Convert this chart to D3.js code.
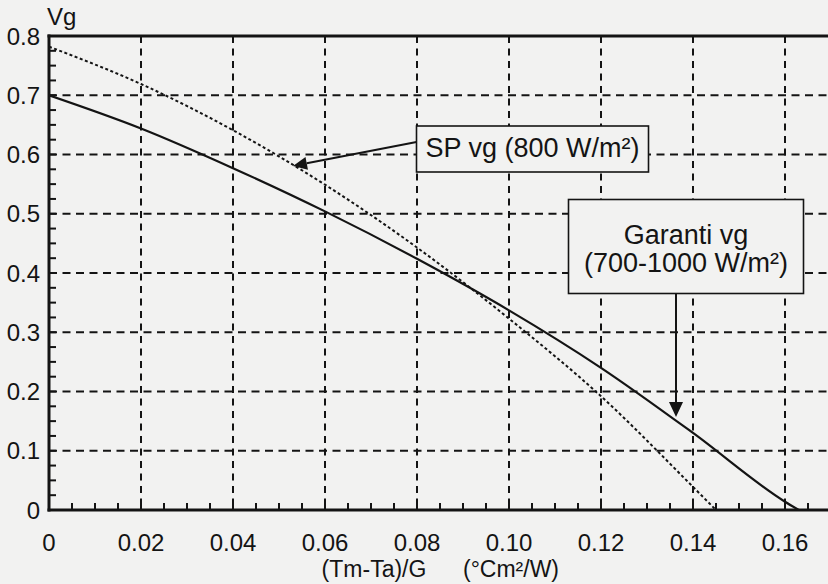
<!DOCTYPE html>
<html><head><meta charset="utf-8">
<script src="https://cdn.jsdelivr.net/npm/d3@7"></script>
<style>html,body{margin:0;padding:0;background:#f2f2f1;}svg{display:block;font-family:"Liberation Sans",Arial,sans-serif;}</style>
</head><body>
<svg id="c" width="828" height="584"></svg>
<script>
// ---- data ----
const xTicks = [0, 0.02, 0.04, 0.06, 0.08, 0.10, 0.12, 0.14, 0.16];
const xTickLabels = ["0", "0.02", "0.04", "0.06", "0.08", "0.10", "0.12", "0.14", "0.16"];
const yTicks = [0, 0.1, 0.2, 0.3, 0.4, 0.5, 0.6, 0.7, 0.8];
const yTickLabels = ["0", "0.1", "0.2", "0.3", "0.4", "0.5", "0.6", "0.7", "0.8"];
const garantiX = [0, 0.02, 0.04, 0.06, 0.08, 0.10, 0.12, 0.14, 0.16, 0.163];
const garantiY = [0.700, 0.644, 0.577, 0.504, 0.424, 0.337, 0.240, 0.130, 0.014, 0];
const spX = [0, 0.02, 0.04, 0.06, 0.08, 0.10, 0.12, 0.14, 0.145];
const spY = [0.782, 0.719, 0.641, 0.549, 0.443, 0.323, 0.192, 0.039, 0];
const xMinor = d3.range(0, 0.1801, 0.005);
const yMinor = d3.range(0, 0.801, 0.025);

const W = 828, H = 584;
const svg = d3.select("#c");
const x = d3.scaleLinear().domain([0, 0.18]).range([49, 49 + 0.18 * 4600]);
const y = d3.scaleLinear().domain([0, 0.8]).range([510, 36]);
const ink = "#141414";
const bg = "#f2f2f1";

svg.append("rect").attr("width", W).attr("height", H).attr("fill", bg);
svg.append("defs").append("clipPath").attr("id", "clip")
  .append("rect").attr("x", x(0)).attr("y", y(0.8)).attr("width", W - x(0)).attr("height", y(0) - y(0.8));

const plot = svg.append("g").attr("clip-path", "url(#clip)");

// grid
plot.selectAll(".vg").data(xTicks.slice(1).concat([0.18])).join("line")
  .attr("x1", d => x(d)).attr("x2", d => x(d)).attr("y1", y(0.8)).attr("y2", y(0))
  .attr("stroke", ink).attr("stroke-width", 2).attr("stroke-dasharray", "7,5.5");
plot.selectAll(".hg").data(yTicks.slice(1, -1)).join("line")
  .attr("x1", x(0)).attr("x2", W).attr("y1", d => y(d)).attr("y2", d => y(d))
  .attr("stroke", ink).attr("stroke-width", 2).attr("stroke-dasharray", "8,5.5");

// curves
const line = (xs, ys) => d3.line().x((d, i) => x(xs[i])).y(d => y(d)).curve(d3.curveMonotoneX)(ys);
plot.append("path").attr("d", line(spX, spY)).attr("fill", "none")
  .attr("stroke", ink).attr("stroke-width", 2).attr("stroke-dasharray", "3,2.5");
plot.append("path").attr("d", line(garantiX, garantiY)).attr("fill", "none")
  .attr("stroke", ink).attr("stroke-width", 2.2);

// minor ticks
svg.selectAll(".xm").data(xMinor).join("line")
  .attr("x1", d => x(d)).attr("x2", d => x(d)).attr("y1", y(0)).attr("y2", y(0) - 7)
  .attr("stroke", ink).attr("stroke-width", 2);
svg.selectAll(".ym").data(yMinor).join("line")
  .attr("x1", x(0)).attr("x2", x(0) + 7).attr("y1", d => y(d)).attr("y2", d => y(d))
  .attr("stroke", ink).attr("stroke-width", 2);

// frame
svg.append("line").attr("x1", x(0)).attr("x2", x(0)).attr("y1", y(0.8) - 1.5).attr("y2", y(0) + 1.5)
  .attr("stroke", ink).attr("stroke-width", 3);
svg.append("line").attr("x1", x(0) - 1.5).attr("x2", W).attr("y1", y(0)).attr("y2", y(0))
  .attr("stroke", ink).attr("stroke-width", 3);
svg.append("line").attr("x1", x(0) - 1.5).attr("x2", W).attr("y1", y(0.8)).attr("y2", y(0.8))
  .attr("stroke", ink).attr("stroke-width", 3);

// tick labels
svg.selectAll(".xl").data(xTicks).join("text")
  .attr("x", d => x(d)).attr("y", 551).attr("text-anchor", "middle")
  .attr("font-size", 24).attr("fill", ink).text((d, i) => xTickLabels[i]);
svg.selectAll(".yl").data(yTicks).join("text")
  .attr("x", 40).attr("y", d => y(d) + 8.5).attr("text-anchor", "end")
  .attr("font-size", 24).attr("fill", ink).text((d, i) => yTickLabels[i]);

svg.append("text").attr("x", 47).attr("y", 25).attr("font-size", 24).attr("fill", ink).text("Vg");
svg.append("text").attr("x", 374).attr("y", 577).attr("text-anchor", "middle").attr("font-size", 23).attr("fill", ink).text("(Tm-Ta)/G");
svg.append("text").attr("x", 511).attr("y", 577).attr("text-anchor", "middle").attr("font-size", 23).attr("fill", ink).text("(°Cm²/W)");

// arrows
function arrow(x1, y1, x2, y2, len, half) {
  const a = Math.atan2(y2 - y1, x2 - x1);
  const bx = x2 - len * Math.cos(a), by = y2 - len * Math.sin(a);
  svg.append("line").attr("x1", x1).attr("y1", y1).attr("x2", bx).attr("y2", by)
    .attr("stroke", ink).attr("stroke-width", 2);
  const px = -Math.sin(a) * half, py = Math.cos(a) * half;
  svg.append("path").attr("d", `M${x2},${y2}L${bx + px},${by + py}L${bx - px},${by - py}Z`).attr("fill", ink);
}

// SP annotation
const spBox = {x: 416.5, y: 126, w: 232, h: 46};
svg.append("rect").attr("x", spBox.x).attr("y", spBox.y).attr("width", spBox.w).attr("height", spBox.h)
  .attr("fill", bg).attr("stroke", ink).attr("stroke-width", 1.6);
svg.append("text").attr("x", spBox.x + spBox.w / 2).attr("y", 157).attr("text-anchor", "middle")
  .attr("font-size", 27).attr("fill", ink).text("SP vg (800 W/m²)");
arrow(spBox.x, 142, 293, 166, 14, 6.5);

// Garanti annotation
const gBox = {x: 568.5, y: 199.5, w: 235, h: 94};
svg.append("rect").attr("x", gBox.x).attr("y", gBox.y).attr("width", gBox.w).attr("height", gBox.h)
  .attr("fill", bg).attr("stroke", ink).attr("stroke-width", 1.6);
svg.append("text").attr("x", gBox.x + gBox.w / 2).attr("y", 244).attr("text-anchor", "middle")
  .attr("font-size", 27).attr("fill", ink).text("Garanti vg");
svg.append("text").attr("x", gBox.x + gBox.w / 2).attr("y", 272).attr("text-anchor", "middle")
  .attr("font-size", 27).attr("fill", ink).text("(700-1000 W/m²)");
arrow(676, gBox.y + gBox.h, 676, 417, 15, 7);
</script>
</body></html>
